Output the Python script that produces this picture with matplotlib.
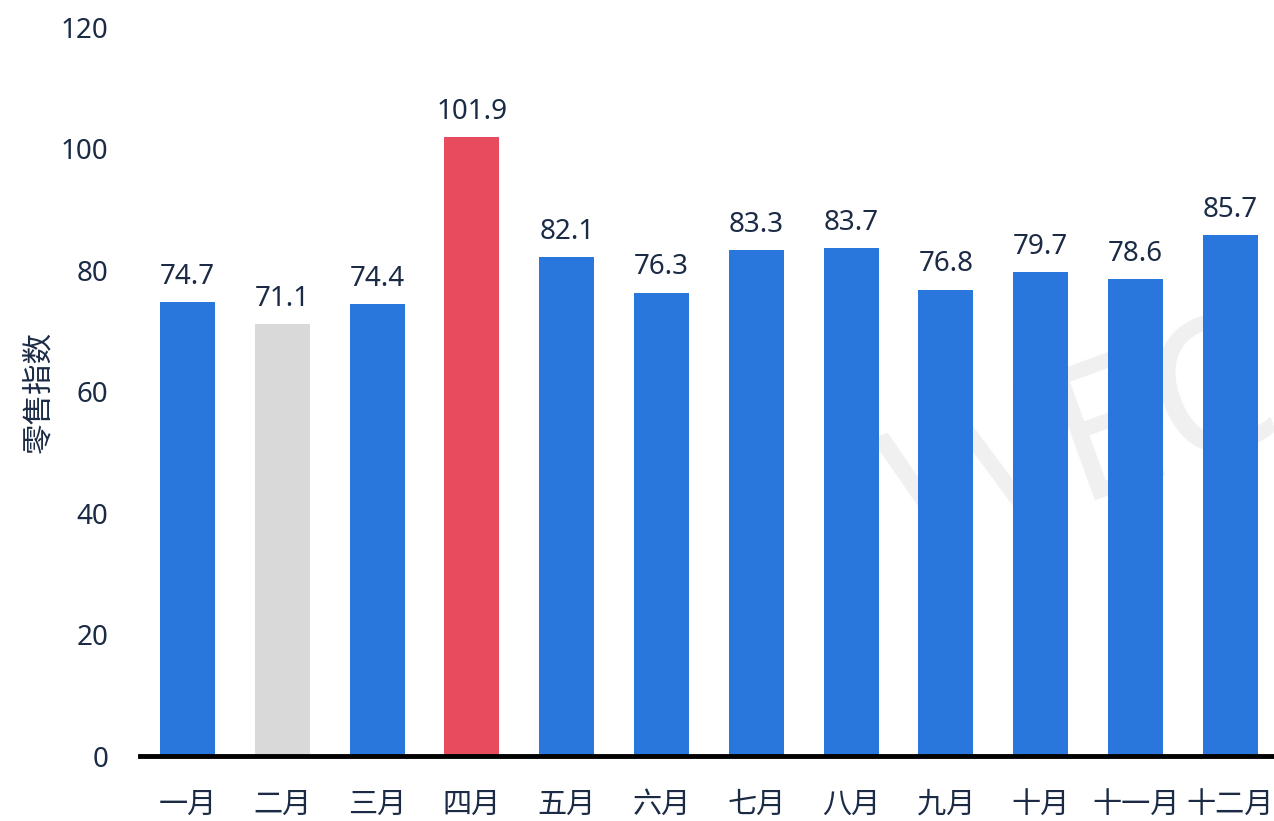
import matplotlib.pyplot as plt

plt.rcParams['font.family'] = ['Noto Sans', 'Noto Sans CJK SC', 'DejaVu Sans']

months = ['一月', '二月', '三月', '四月', '五月', '六月', '七月', '八月', '九月', '十月', '十一月', '十二月']
values = [74.7, 71.1, 74.4, 101.9, 82.1, 76.3, 83.3, 83.7, 76.8, 79.7, 78.6, 85.7]

blue = '#2976DD'
colors = [blue] * len(values)
colors[1] = '#D9D9D9'   # min
colors[3] = '#E64C5E'   # max
text_color = '#1B2B45'

fig = plt.figure(figsize=(12.74, 8.21), dpi=100)
ax = fig.add_axes([0.11, 0.079, 0.89, 0.888])

# watermark behind the bars
ax.text(0.68, 0.26, 'WEC', fontsize=135, color='#F0F0F0', rotation=20,
        ha='left', va='bottom', zorder=0, transform=fig.transFigure, clip_on=True)

x = range(len(values))
bars = ax.bar(x, values, width=0.58, color=colors, zorder=2)
for b, v in zip(bars, values):
    ax.annotate(f'{v:.1f}', (b.get_x() + b.get_width() / 2, v),
                xytext=(0, 8), textcoords='offset points',
                ha='center', va='bottom', fontsize=20, color=text_color)

ax.set_xlim(-0.5, 11.46)
ax.set_ylim(0, 120)
ax.set_yticks(range(0, 121, 20))
ax.set_xticks(list(x))
ax.set_xticklabels(months)
ax.tick_params(axis='both', length=0, labelsize=20, labelcolor=text_color)
ax.tick_params(axis='x', pad=25, labelsize=21)
ax.tick_params(axis='y', pad=23)

for s in ['top', 'right', 'left']:
    ax.spines[s].set_visible(False)
ax.spines['bottom'].set_linewidth(3.5)
ax.spines['bottom'].set_color('black')
ax.spines['bottom'].set_zorder(3)

ax.set_ylabel('零售指数', fontsize=22, color=text_color, labelpad=4)

fig.savefig('out.png', dpi=100)
